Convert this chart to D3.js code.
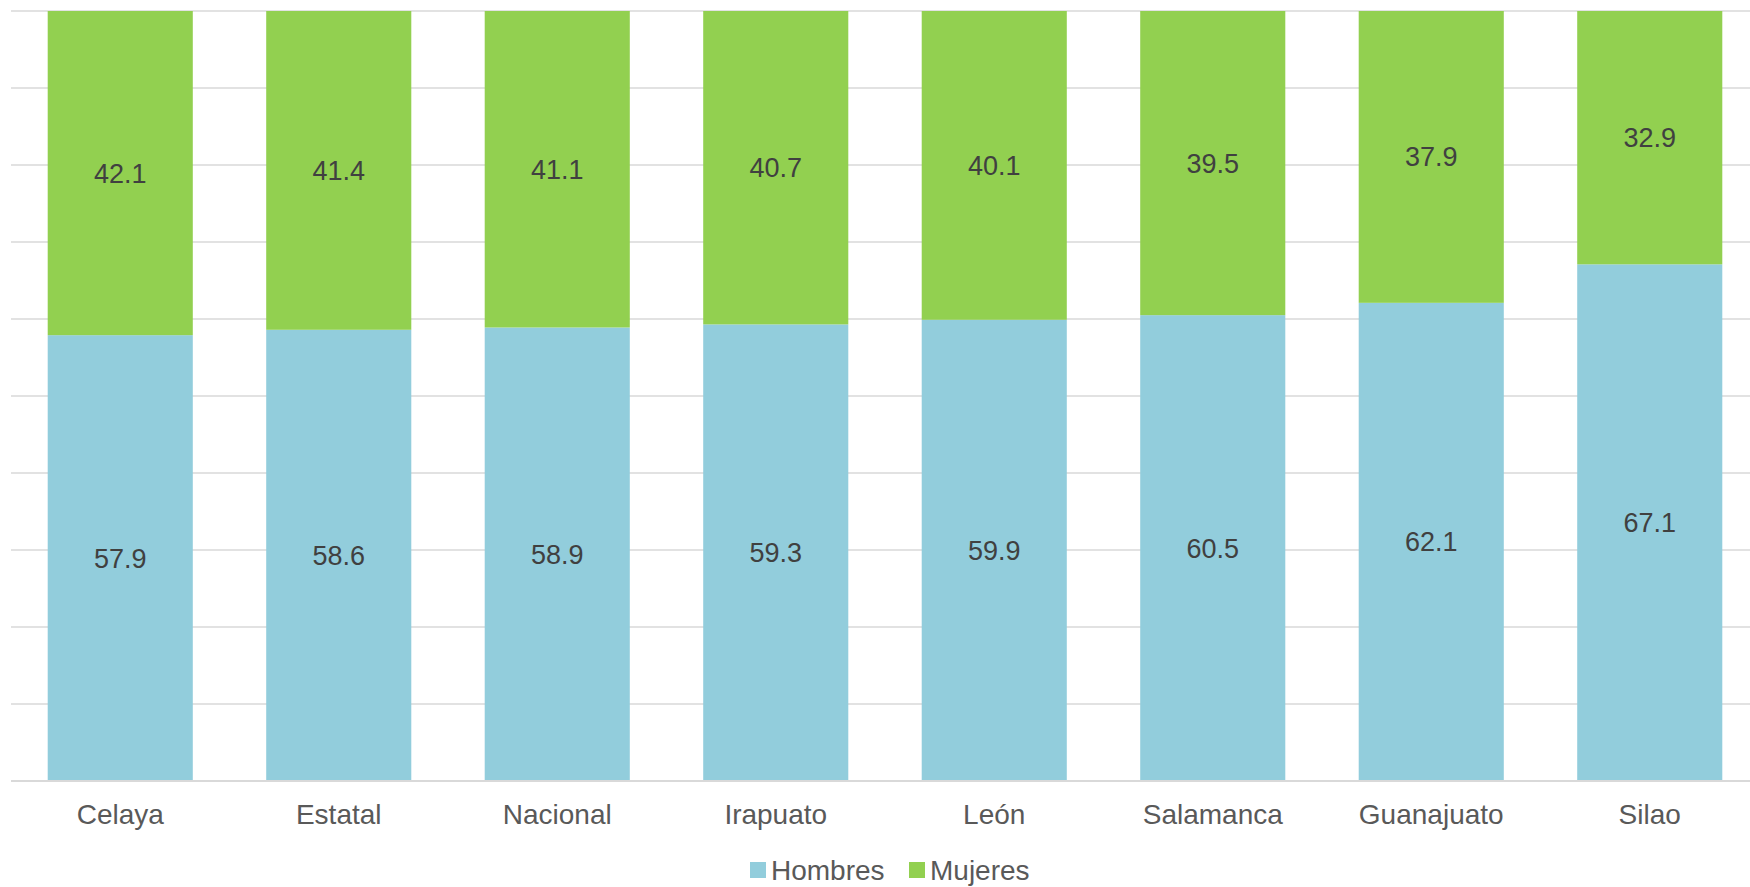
<!DOCTYPE html>
<html>
<head>
<meta charset="utf-8">
<script src="https://cdn.jsdelivr.net/npm/d3@7"></script>
<style>
  html, body { margin: 0; padding: 0; background: #fff; overflow: hidden; }
  svg { display: block; font-family: "Liberation Sans", Arial, sans-serif; }
</style>
</head>
<body>
<svg></svg>
<script>
const categories = ['Celaya', 'Estatal', 'Nacional', 'Irapuato', 'León', 'Salamanca', 'Guanajuato', 'Silao'];
const hombres = [57.9, 58.6, 58.9, 59.3, 59.9, 60.5, 62.1, 67.1];
const mujeres = [42.1, 41.4, 41.1, 40.7, 40.1, 39.5, 37.9, 32.9];
const seriesNames = ['Hombres', 'Mujeres'];
const colors = ['#92CDDC', '#92D050'];
const yTicks = [0, 10, 20, 30, 40, 50, 60, 70, 80, 90, 100];

const width = 1750;
const height = 887;
const margin = { top: 11, right: -9, bottom: 106, left: 11 };
const innerWidth = width - margin.left - margin.right;
const innerHeight = height - margin.top - margin.bottom;

const svg = d3.select('svg')
    .attr('width', width)
    .attr('height', height);

const g = svg.append('g')
    .attr('transform', `translate(${margin.left},${margin.top})`);

const x = d3.scaleBand()
    .domain(categories)
    .range([0, innerWidth])
    .paddingInner(0.336)
    .paddingOuter(0.168);

const y = d3.scaleLinear()
    .domain([0, 100])
    .range([innerHeight, 0]);

// gridlines
g.selectAll('line.grid')
  .data(yTicks.slice(1))
  .enter().append('line')
    .attr('class', 'grid')
    .attr('x1', 0)
    .attr('x2', width - margin.left)
    .attr('y1', d => y(d))
    .attr('y2', d => y(d))
    .attr('stroke', '#d9d9d9')
    .attr('stroke-width', 1.5);

const rows = categories.map((c, i) => ({ cat: c, Hombres: hombres[i], Mujeres: mujeres[i] }));
const stacked = d3.stack().keys(seriesNames)(rows);

const layers = g.selectAll('g.layer')
  .data(stacked)
  .enter().append('g')
    .attr('fill', (d, i) => colors[i]);

layers.selectAll('rect')
  .data(d => d)
  .enter().append('rect')
    .attr('x', d => x(d.data.cat))
    .attr('width', x.bandwidth())
    .attr('y', d => y(d[1]))
    .attr('height', d => y(d[0]) - y(d[1]));

// value labels
layers.selectAll('text')
  .data(d => d)
  .enter().append('text')
    .attr('x', d => x(d.data.cat) + x.bandwidth() / 2)
    .attr('y', d => y((d[0] + d[1]) / 2))
    .attr('dy', '0.35em')
    .attr('text-anchor', 'middle')
    .attr('fill', '#404040')
    .style('font-size', '27px')
    .text(d => (d[1] - d[0]).toFixed(1));

// x axis line
g.append('line')
    .attr('x1', 0)
    .attr('x2', width - margin.left)
    .attr('y1', innerHeight)
    .attr('y2', innerHeight)
    .attr('stroke', '#d9d9d9')
    .attr('stroke-width', 2);

// category labels
g.selectAll('text.cat')
  .data(categories)
  .enter().append('text')
    .attr('class', 'cat')
    .attr('x', d => x(d) + x.bandwidth() / 2)
    .attr('y', innerHeight + 43)
    .attr('text-anchor', 'middle')
    .attr('fill', '#595959')
    .style('font-size', '28px')
    .text(d => d);

// legend
const legend = svg.append('g')
    .attr('transform', 'translate(750,880)');

const legendX = [0, 159];
seriesNames.forEach((name, i) => {
  legend.append('rect')
      .attr('x', legendX[i])
      .attr('y', -18)
      .attr('width', 16)
      .attr('height', 16)
      .attr('fill', colors[i]);
  legend.append('text')
      .attr('x', legendX[i] + 21)
      .attr('y', 0)
      .attr('fill', '#595959')
      .style('font-size', '28px')
      .text(name);
});
</script>
</body>
</html>
